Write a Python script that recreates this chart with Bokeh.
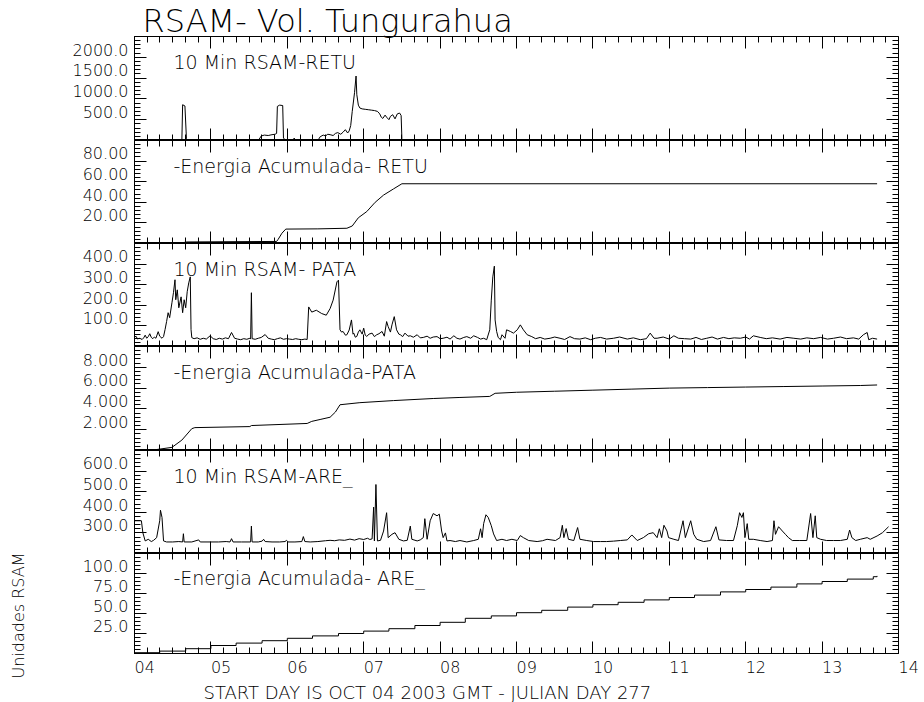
import math
from bokeh.plotting import figure
from bokeh.models import Range1d, LinearAxis, FixedTicker, Label, Title
from bokeh.layouts import column, row
from bokeh.core.properties import value
from bokeh.embed import file_html
from bokeh.resources import INLINE

# ---------------- data (day of October 2003, value) ----------------
retu_rsam = [
    (4.00, 0), (4.62, 0), (4.63, 860), (4.66, 830), (4.68, 40), (4.70, 0),
    (5.62, 0), (5.66, 110), (5.70, 130), (5.75, 120), (5.80, 140), (5.84, 150), (5.86, 170),
    (5.87, 820), (5.90, 850), (5.94, 840), (5.95, 60), (5.98, 0),
    (6.08, 0), (6.09, 60), (6.10, 0),
    (6.40, 0), (6.43, 90), (6.47, 130), (6.50, 110), (6.53, 150), (6.56, 140), (6.60, 120),
    (6.63, 170), (6.66, 190), (6.70, 150), (6.73, 200), (6.76, 260), (6.79, 180), (6.81, 230),
    (6.83, 360), (6.85, 700), (6.88, 1150), (6.90, 1550), (6.91, 1100), (6.93, 850), (6.95, 780),
    (6.98, 760), (7.02, 750), (7.06, 740), (7.10, 730), (7.14, 720), (7.18, 700), (7.21, 640),
    (7.23, 560), (7.25, 530), (7.28, 610), (7.30, 560), (7.33, 500), (7.35, 580), (7.38, 620),
    (7.41, 520), (7.44, 640), (7.47, 660), (7.49, 600), (7.50, 40), (7.52, 0),
    (13.72, 0),
]

retu_cum = [
    (4.00, 0.5), (4.62, 0.5), (4.68, 1.5), (5.86, 2.0), (5.88, 4.0), (5.93, 10.0), (5.98, 14.0),
    (6.40, 14.2), (6.78, 14.8), (6.85, 17.0), (6.93, 25.0), (7.04, 31.0), (7.15, 40.0),
    (7.26, 47.0), (7.39, 53.0), (7.50, 58.0), (13.72, 58.0),
]

pata_rsam = [
    (4.00, 45), (4.02, 50), (4.04, 36), (4.06, 40), (4.08, 38), (4.10, 34), (4.12, 42), (4.14, 55),
    (4.16, 40), (4.18, 48), (4.20, 62), (4.22, 44), (4.24, 38), (4.26, 46), (4.28, 40), (4.31, 72),
    (4.33, 50), (4.36, 40),
    (4.38, 48), (4.40, 82), (4.42, 121), (4.44, 164), (4.46, 140), (4.49, 212), (4.51, 261),
    (4.53, 324), (4.54, 227), (4.56, 275), (4.58, 188), (4.61, 241), (4.63, 164), (4.65, 227),
    (4.67, 188), (4.69, 266), (4.71, 309), (4.73, 338), (4.74, 82), (4.75, 43),
    (4.78, 38), (4.82, 42), (4.86, 35), (4.90, 40), (4.94, 36), (4.99, 52), (5.03, 38), (5.07, 34),
    (5.11, 40), (5.15, 36), (5.19, 42), (5.23, 38), (5.27, 68), (5.31, 40), (5.35, 36), (5.39, 33),
    (5.43, 38), (5.47, 35), (5.51, 40), (5.52, 36), (5.53, 261), (5.54, 38), (5.58, 35), (5.62, 40),
    (5.66, 44), (5.71, 58), (5.75, 40), (5.79, 36), (5.83, 33), (5.87, 38), (5.91, 42), (5.95, 35),
    (5.99, 38), (6.03, 36), (6.07, 34), (6.11, 38), (6.15, 35), (6.19, 33), (6.23, 36), (6.26, 34),
    (6.28, 192), (6.32, 167), (6.38, 176), (6.45, 160), (6.51, 152), (6.56, 184), (6.60, 225),
    (6.65, 314), (6.67, 322), (6.69, 81),
    (6.71, 70), (6.73, 73), (6.76, 55), (6.78, 57), (6.81, 80), (6.84, 129), (6.86, 60), (6.87, 65),
    (6.89, 45), (6.91, 49), (6.93, 70), (6.95, 81), (6.98, 60), (7.00, 89), (7.02, 55), (7.04, 49),
    (7.07, 60), (7.11, 65), (7.14, 48), (7.17, 57), (7.20, 62), (7.24, 73), (7.27, 50), (7.30, 121),
    (7.32, 97), (7.35, 70), (7.37, 105), (7.40, 145), (7.43, 81), (7.46, 60), (7.48, 57), (7.51, 48),
    (7.54, 65), (7.58, 50), (7.61, 52), (7.65, 45), (7.70, 57), (7.74, 42), (7.78, 44), (7.83, 50),
    (7.87, 40), (7.91, 46), (7.96, 48), (8.00, 38), (8.04, 40), (8.09, 45), (8.13, 36), (8.18, 52),
    (8.22, 40), (8.26, 36), (8.31, 44), (8.35, 48), (8.40, 40), (8.44, 52), (8.49, 44), (8.53, 36),
    (8.57, 40), (8.61, 33),
    (8.65, 81), (8.67, 225), (8.69, 338), (8.71, 390), (8.72, 129), (8.74, 73), (8.76, 44),
    (8.79, 33), (8.81, 57), (8.85, 40), (8.87, 81), (8.92, 73), (8.96, 65),
    (9.01, 81), (9.05, 105), (9.09, 81), (9.14, 57), (9.20, 48), (9.25, 38), (9.31, 44), (9.37, 36),
    (9.44, 40), (9.50, 46), (9.57, 40), (9.63, 34), (9.70, 48), (9.76, 38), (9.83, 36), (9.90, 42),
    (9.97, 33), (10.03, 40), (10.10, 44), (10.18, 36), (10.27, 40), (10.35, 46), (10.45, 36),
    (10.53, 42), (10.62, 33), (10.70, 38), (10.75, 65), (10.80, 40), (10.84, 40), (10.92, 46),
    (11.00, 36), (11.06, 52), (11.12, 40), (11.20, 38), (11.28, 36), (11.35, 44), (11.42, 34),
    (11.49, 40), (11.56, 46), (11.63, 36), (11.71, 44), (11.78, 38), (11.85, 42), (11.93, 40),
    (12.00, 46), (12.05, 36), (12.10, 52), (12.19, 44), (12.27, 38), (12.35, 42), (12.45, 36),
    (12.54, 44), (12.63, 40), (12.72, 36), (12.80, 42), (12.89, 38), (12.98, 44), (13.07, 36),
    (13.15, 40), (13.24, 46), (13.32, 38), (13.41, 42), (13.48, 36), (13.54, 57), (13.59, 68),
    (13.61, 33), (13.66, 40), (13.72, 36),
]

pata_cum = [
    (4.00, 0.0), (4.20, 0.0), (4.49, 0.3), (4.62, 1.0), (4.75, 2.1), (4.79, 2.2), (5.51, 2.3),
    (5.53, 2.4), (6.26, 2.6), (6.32, 2.8), (6.44, 3.0), (6.56, 3.2), (6.63, 3.7), (6.69, 4.4),
    (6.95, 4.6), (7.39, 4.8), (7.91, 5.0), (8.26, 5.1), (8.65, 5.2), (8.72, 5.5), (9.00, 5.6),
    (9.50, 5.7), (10.00, 5.8), (10.50, 5.9), (11.00, 6.0), (11.50, 6.05), (12.00, 6.1),
    (12.50, 6.15), (13.00, 6.2), (13.50, 6.25), (13.72, 6.3),
]

are_rsam = [
    (4.00, 359), (4.03, 359), (4.09, 359), (4.11, 300), (4.14, 261), (4.18, 269), (4.22, 258),
    (4.25, 264), (4.29, 277), (4.33, 359), (4.34, 410), (4.36, 375), (4.38, 261), (4.42, 256),
    (4.50, 256), (4.58, 258), (4.63, 256), (4.64, 296), (4.65, 256), (4.75, 256), (4.84, 266),
    (4.86, 256), (5.00, 256), (5.10, 256), (5.20, 258), (5.25, 256), (5.27, 272), (5.29, 256),
    (5.40, 256), (5.52, 256), (5.53, 333), (5.54, 256), (5.62, 256), (5.67, 260), (5.69, 269),
    (5.71, 258), (5.80, 256), (5.90, 256), (5.97, 258), (5.99, 264), (6.01, 256), (6.10, 256),
    (6.19, 258), (6.21, 282), (6.23, 258), (6.30, 256), (6.40, 258), (6.50, 262), (6.56, 264),
    (6.62, 262), (6.68, 266), (6.75, 264), (6.82, 270), (6.88, 265), (6.94, 272), (7.00, 268),
    (7.05, 274), (7.08, 268),
    (7.11, 271), (7.13, 425), (7.14, 261), (7.16, 535), (7.18, 261), (7.22, 264), (7.26, 309),
    (7.30, 398), (7.32, 277), (7.37, 293), (7.41, 301), (7.46, 269), (7.52, 261), (7.57, 264),
    (7.61, 333), (7.63, 269), (7.70, 261), (7.74, 266), (7.78, 277), (7.80, 369), (7.83, 269),
    (7.87, 359), (7.91, 394), (7.96, 383), (7.99, 391), (8.02, 309), (8.04, 277), (8.07, 300),
    (8.09, 261),
    (8.13, 263), (8.20, 258), (8.26, 263), (8.35, 256), (8.44, 263), (8.50, 269), (8.53, 320),
    (8.55, 277), (8.57, 345), (8.60, 388), (8.63, 375), (8.67, 335), (8.70, 295), (8.74, 263),
    (8.81, 269), (8.87, 263), (8.94, 269), (9.01, 263), (9.05, 287), (9.09, 277), (9.16, 263),
    (9.27, 258), (9.34, 262), (9.40, 269), (9.51, 263), (9.57, 277), (9.60, 337), (9.62, 277),
    (9.65, 321), (9.68, 269), (9.75, 263), (9.80, 326), (9.83, 269), (9.92, 263), (10.01, 258),
    (10.10, 258), (10.18, 258), (10.27, 260), (10.36, 263), (10.45, 266), (10.51, 290),
    (10.58, 263), (10.66, 277), (10.73, 296), (10.79, 301), (10.84, 277), (10.87, 320),
    (10.90, 277), (10.93, 337), (10.97, 309), (10.99, 277), (11.06, 269), (11.12, 263),
    (11.18, 359), (11.21, 277), (11.28, 359), (11.32, 293), (11.36, 269), (11.45, 258),
    (11.54, 263), (11.61, 330), (11.65, 266), (11.75, 263), (11.84, 263), (11.89, 335),
    (11.92, 398), (11.95, 375), (11.97, 398), (11.99, 277), (12.02, 345), (12.04, 269),
    (12.10, 269), (12.19, 263), (12.28, 258), (12.35, 263), (12.37, 359), (12.39, 293),
    (12.43, 330), (12.48, 309), (12.52, 293), (12.56, 277), (12.61, 263), (12.70, 263),
    (12.80, 263), (12.85, 394), (12.88, 277), (12.91, 383), (12.93, 277), (12.98, 269),
    (13.06, 263), (13.15, 263), (13.24, 263), (13.33, 269), (13.36, 314), (13.39, 277),
    (13.44, 263), (13.50, 269), (13.59, 277), (13.63, 269), (13.72, 285), (13.79, 301),
    (13.87, 330),
]

are_cum = [
    (4.00, 1), (4.33, 3), (4.67, 6), (5.00, 10), (5.33, 13), (5.67, 16), (6.00, 19), (6.33, 22),
    (6.67, 25), (7.00, 28), (7.33, 31), (7.67, 35), (8.00, 39), (8.33, 44), (8.67, 47), (9.00, 51),
    (9.33, 54), (9.67, 58), (10.00, 61), (10.33, 64), (10.67, 67), (11.00, 70), (11.33, 73),
    (11.67, 77), (12.00, 80), (12.33, 83), (12.67, 87), (13.00, 90), (13.33, 93), (13.67, 96),
    (13.72, 97),
]

# axis ticks / labels
day_ticks = [4, 5, 6, 7, 8, 9, 10, 11, 12, 13, 14]
day_labels = ["04", "05", "06", "07", "08", "09", "10", "11", "12", "13", "14"]

retu_rsam_ticks = [500, 1000, 1500, 2000]
retu_rsam_labels = ["500.0", "1000.0", "1500.0", "2000.0"]
retu_cum_ticks = [20, 40, 60, 80]
retu_cum_labels = ["20.00", "40.00", "60.00", "80.00"]
pata_rsam_ticks = [100, 200, 300, 400]
pata_rsam_labels = ["100.0", "200.0", "300.0", "400.0"]
pata_cum_ticks = [2, 4, 6, 8]
pata_cum_labels = ["2.000", "4.000", "6.000", "8.000"]
are_rsam_ticks = [300, 400, 500, 600]
are_rsam_labels = ["300.0", "400.0", "500.0", "600.0"]
are_cum_ticks = [25, 50, 75, 100]
are_cum_labels = ["25.0", "50.0", "75.0", "100.0"]

title_text = "RSAM- Vol. Tungurahua"
x_title_text = "START DAY IS OCT 04 2003 GMT    - JULIAN DAY 277"
y_title_text = "Unidades RSAM"

panels = [
    dict(data=retu_rsam, yr=(0, 2500), ticks=retu_rsam_ticks, labels=retu_rsam_labels, minor=100,
         name="10 Min RSAM-RETU", step=False, h=104),
    dict(data=retu_cum, yr=(0, 100), ticks=retu_cum_ticks, labels=retu_cum_labels, minor=4,
         name="-Energia Acumulada- RETU", step=False, h=103),
    dict(data=pata_rsam, yr=(0, 500), ticks=pata_rsam_ticks, labels=pata_rsam_labels, minor=20,
         name="10 Min RSAM- PATA", step=False, h=103),
    dict(data=pata_cum, yr=(0, 10), ticks=pata_cum_ticks, labels=pata_cum_labels, minor=0.4,
         name="-Energia Acumulada-PATA", step=False, h=104),
    dict(data=are_rsam, yr=(200, 700), ticks=are_rsam_ticks, labels=are_rsam_labels, minor=20,
         name="10 Min RSAM-ARE_", step=False, h=103),
    dict(data=are_cum, yr=(0, 125), ticks=are_cum_ticks, labels=are_cum_labels, minor=5,
         name="-Energia Acumulada- ARE_", step=True, h=103),
]

# ---------------- layout / style ----------------
FONT_LIGHT = "DejaVu Sans ExtraLight, DejaVu Sans Light, DejaVu Sans"
STRIP_W = 30
W = 892
LEFT, RIGHT = 104, 24
TOP, BOTTOM = 36, 46
TOTAL_H = TOP + sum(s["h"] for s in panels) + BOTTOM
NB = "\u00a0"

x_range = Range1d(4, 14)
day_minor = [4 + k / 6 for k in range(61)]


def style_axis(ax):
    ax.axis_line_color = "black"
    ax.major_tick_line_color = "black"
    ax.minor_tick_line_color = "black"
    ax.major_tick_in = 12
    ax.major_tick_out = 0
    ax.minor_tick_in = 6
    ax.minor_tick_out = 0


def hidden_axis(ticker, loc):
    ax = LinearAxis(ticker=ticker, fixed_location=loc, major_label_text_color=None)
    style_axis(ax)
    return ax


figs = []
n = len(panels)
for i, spec in enumerate(panels):
    first = i == 0
    last = i == n - 1
    y0, y1 = spec["yr"]
    ph = spec["h"]
    h = ph + (TOP if first else 0) + (BOTTOM if last else 0)
    p = figure(width=W, height=h, x_range=x_range, y_range=Range1d(y0, y1),
               output_backend="svg", toolbar_location=None,
               x_axis_location=None, y_axis_location=None,
               min_border_left=LEFT, min_border_right=RIGHT,
               min_border_top=TOP if first else 0,
               min_border_bottom=BOTTOM if last else 0)
    p.xgrid.visible = False
    p.ygrid.visible = False
    p.outline_line_color = "black"
    p.outline_line_width = 1
    p.background_fill_color = "white"
    p.border_fill_color = "white"
    if first:
        p.title = Title(text=title_text, align="left", offset=8, standoff=-6,
                        text_font=FONT_LIGHT, text_font_size="32px", text_font_style="normal",
                        text_color="black")
    elif p.title is not None:
        p.title.visible = False

    nminor = int(round((y1 - y0) / spec["minor"]))
    yminor = [y0 + k * spec["minor"] for k in range(nminor + 1)]
    yt = FixedTicker(ticks=spec["ticks"], minor_ticks=yminor)
    dt = FixedTicker(ticks=day_ticks, minor_ticks=day_minor)

    # labels sit slightly above their tick, as in the original: an empty second line does that
    left = LinearAxis(ticker=yt, major_label_overrides={t: l + "\n" for t, l in zip(spec["ticks"], spec["labels"])})
    style_axis(left)
    left.major_label_standoff = 6
    left.major_label_text_font = FONT_LIGHT
    left.major_label_text_font_size = "16px"
    left.major_label_text_line_height = 0.75
    left.major_label_text_color = "black"
    p.add_layout(left, "left")
    p.add_layout(hidden_axis(yt, 14), "right")
    p.add_layout(hidden_axis(dt, y1), "above")

    if last:
        bottom = LinearAxis(ticker=dt, major_label_overrides={t: NB * 4 + l for t, l in zip(day_ticks, day_labels)})
        style_axis(bottom)
        bottom.major_label_standoff = 4
        bottom.major_label_text_font = FONT_LIGHT
        bottom.major_label_text_font_size = "16px"
        bottom.major_label_text_color = "black"
        p.add_layout(bottom, "below")
        xt = Title(text=x_title_text, align="left", offset=69, standoff=0,
                   text_font=FONT_LIGHT, text_font_size="18px", text_font_style="normal", text_color="black")
        p.add_layout(xt, "below")
    else:
        p.add_layout(hidden_axis(dt, y0), "below")

    xs = [d[0] for d in spec["data"]]
    ys = [d[1] for d in spec["data"]]
    if spec["step"]:
        p.step(xs, ys, mode="after", line_color="black", line_width=1)
    else:
        p.line(xs, ys, line_color="black", line_width=1)

    ty = y1 - 25 / ph * (y1 - y0)
    p.add_layout(Label(x=4.51, y=ty, text=spec["name"], text_align="left", text_baseline="middle",
                       text_font=FONT_LIGHT, text_font_size="19px", text_color="black"))
    figs.append(p)

# left strip holding the vertical axis title (pixel coordinates, y up)
strip = figure(width=STRIP_W, height=TOTAL_H, x_range=Range1d(0, STRIP_W), y_range=Range1d(0, TOTAL_H),
               output_backend="svg", toolbar_location=None,
               x_axis_location=None, y_axis_location=None,
               min_border_left=0, min_border_right=0, min_border_top=0, min_border_bottom=0)
strip.xgrid.visible = False
strip.ygrid.visible = False
strip.outline_line_color = None
strip.background_fill_color = "white"
strip.border_fill_color = "white"
if strip.title is not None:
    strip.title.visible = False
strip.text(x=[18], y=[TOTAL_H - 615], text=[y_title_text], angle=math.pi / 2,
           text_align="center", text_baseline="middle",
           text_font=value(FONT_LIGHT), text_font_size="16px", text_color="black")

layout = row(strip, column(*figs, spacing=0), spacing=0)
open("out.html", "w").write(file_html(layout, INLINE))
